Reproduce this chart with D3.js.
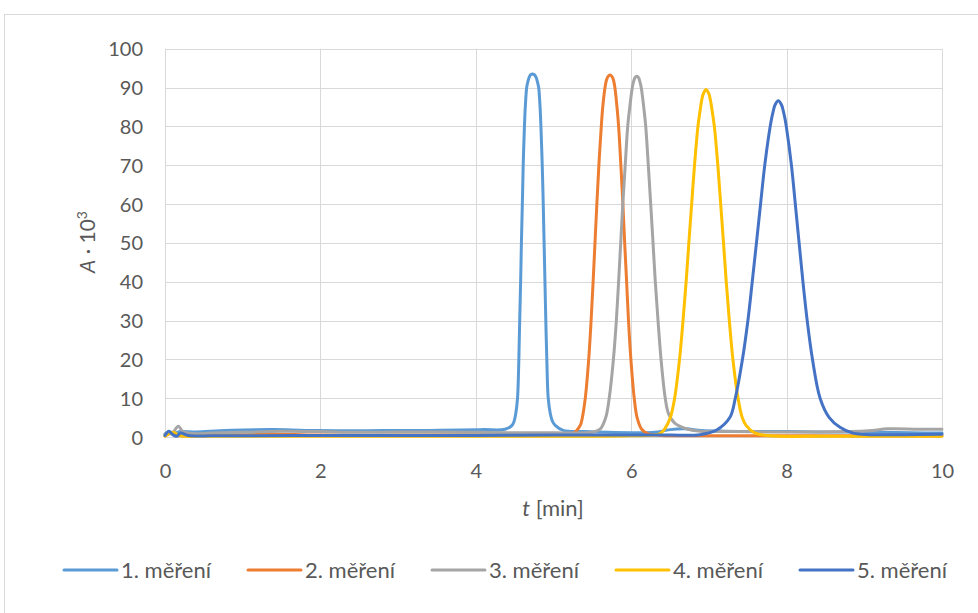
<!DOCTYPE html>
<html>
<head>
<meta charset="utf-8">
<script src="https://cdn.jsdelivr.net/npm/d3@7"></script>
<style>
  html, body { margin: 0; padding: 0; background: #ffffff; }
  svg { display: block; }
  text { font-family: Lato, "Open Sans", sans-serif; fill: #595959; }
</style>
</head>
<body>
<svg id="chart" width="978" height="613"></svg>
<script>
// Absorbance traces (A · 10^3) versus time t [min] for five repeated runs
const seriesNames = ["1. měření", "2. měření", "3. měření", "4. měření", "5. měření"];
const seriesColors = ["#5B9BD5", "#ED7D31", "#A5A5A5", "#FFC000", "#4472C4"];

const xTicks = [0, 2, 4, 6, 8, 10];
const yTicks = [0, 10, 20, 30, 40, 50, 60, 70, 80, 90, 100];

const run1 = [[0,0.8],[0.05,1.3],[0.12,1.0],[0.2,1.4],[0.4,1.3],[0.7,1.6],[1.0,1.8],[1.4,1.9],[1.8,1.7],[2.2,1.6],[2.6,1.6],[3.0,1.7],[3.4,1.7],[3.8,1.8],[4.1,1.9],[4.376,2.0],[4.466,3],[4.492,4],[4.514,6],[4.537,10],[4.554,20],[4.565,30],[4.577,40],[4.587,50],[4.599,60],[4.610,70],[4.626,80],[4.637,85],[4.655,90],[4.670,91.5],[4.688,92.7],[4.707,93.3],[4.730,93.5],[4.754,93.3],[4.775,92.7],[4.793,91.5],[4.809,90],[4.827,85],[4.838,80],[4.855,70],[4.868,60],[4.879,50],[4.890,40],[4.901,30],[4.914,20],[4.932,10],[4.959,6],[4.987,4],[5.022,3],[5.125,1.7],[5.4,1.4],[5.7,1.2],[6.0,1.1],[6.3,1.2],[6.5,1.9],[6.7,2.1],[6.9,1.7],[7.2,1.5],[7.6,1.4],[8.0,1.4],[8.4,1.3],[8.8,1.3],[9.2,1.2],[9.6,1.1],[10,1.0]];

const run2 = [[0,0.3],[0.08,0.9],[0.15,0.4],[0.4,0.5],[1.0,0.6],[1.5,0.7],[2,0.5],[3,0.5],[4,0.6],[4.8,0.7],[5.255,1.0],[5.344,3],[5.371,5],[5.409,10],[5.453,20],[5.484,30],[5.510,40],[5.534,50],[5.558,60],[5.584,70],[5.615,80],[5.634,85],[5.663,90],[5.683,92],[5.701,92.8],[5.727,93.2],[5.753,92.8],[5.771,92],[5.790,90],[5.817,85],[5.838,80],[5.867,70],[5.893,60],[5.916,50],[5.941,40],[5.965,30],[5.996,20],[6.039,10],[6.076,5],[6.135,2],[6.220,0.8],[6.4,0.4],[7,0.3],[8,0.3],[9,0.3],[10,0.3]];

const run3 = [[0,0.8],[0.1,1.2],[0.17,2.8],[0.23,1.4],[0.35,0.9],[0.6,1.0],[1.0,1.2],[1.5,1.5],[2,1.4],[2.5,1.2],[3,1.3],[3.5,1.3],[4,1.2],[4.5,1.1],[5,1.1],[5.492,1.2],[5.599,2],[5.672,5],[5.717,10],[5.771,20],[5.809,30],[5.838,40],[5.865,50],[5.892,60],[5.923,70],[5.955,80],[5.982,85],[6.014,90],[6.030,91.5],[6.047,92.5],[6.071,92.9],[6.096,92.5],[6.112,91.5],[6.129,90],[6.161,85],[6.187,80],[6.220,70],[6.251,60],[6.281,50],[6.310,40],[6.345,30],[6.384,20],[6.438,10],[6.480,6],[6.564,3.5],[6.731,2],[6.886,1.5],[7.3,1.4],[7.8,1.3],[8.3,1.3],[8.8,1.4],[9.1,1.7],[9.3,2.1],[9.7,2.0],[10,2.0]];

const run4 = [[0,0.2],[0.1,1.2],[0.2,0.3],[0.5,0.2],[1,0.2],[2,0.2],[3,0.2],[4,0.2],[5,0.2],[6,0.3],[6.365,0.8],[6.429,2],[6.504,5],[6.559,10],[6.622,20],[6.667,30],[6.707,40],[6.742,50],[6.778,60],[6.815,70],[6.859,80],[6.886,84],[6.910,87],[6.930,88.5],[6.963,89.5],[6.998,88.5],[7.017,87],[7.042,84],[7.070,80],[7.115,70],[7.152,60],[7.188,50],[7.223,40],[7.263,30],[7.309,20],[7.375,10],[7.429,5],[7.478,3],[7.594,1],[7.787,0.3],[8.5,0.2],[9,0.2],[10,0.2]];

const run5 = [[0,0.4],[0.05,1.5],[0.1,0.6],[0.15,0.2],[0.2,1.0],[0.3,0.4],[0.6,0.3],[1,0.3],[2,0.4],[3,0.4],[4,0.4],[5,0.5],[6,0.5],[6.5,0.5],[6.885,0.6],[7.100,1.8],[7.269,5],[7.340,10],[7.432,20],[7.502,30],[7.558,40],[7.612,50],[7.665,60],[7.719,70],[7.789,80],[7.807,82],[7.829,84],[7.851,85.5],[7.893,86.6],[7.935,85.5],[7.957,84],[7.979,82],[7.996,80],[8.062,70],[8.112,60],[8.161,50],[8.210,40],[8.265,30],[8.333,20],[8.431,10],[8.549,5],[8.687,2.5],[8.854,1],[9.073,0.6],[9.5,0.6],[10,0.7]];

const runs = [run1, run2, run3, run4, run5];

const svg = d3.select("#chart");
const plot = { left: 165, right: 942, top: 48.7, bottom: 437 };

const x = d3.scaleLinear().domain([0, 10]).range([plot.left, plot.right]);
const y = d3.scaleLinear().domain([0, 100]).range([plot.bottom, plot.top]);

// chart frame
svg.append("rect")
  .attr("x", 4.5).attr("y", 14.5)
  .attr("width", 1000).attr("height", 700)
  .attr("fill", "#ffffff").attr("stroke", "#D9D9D9").attr("stroke-width", 1);

// gridlines
const grid = svg.append("g").attr("stroke", "#D9D9D9").attr("stroke-width", 1);
grid.selectAll("line.h").data(yTicks).join("line")
  .attr("x1", plot.left).attr("x2", plot.right)
  .attr("y1", d => Math.round(y(d)) + 0.5).attr("y2", d => Math.round(y(d)) + 0.5);
grid.selectAll("line.v").data(xTicks).join("line")
  .attr("y1", plot.top).attr("y2", plot.bottom)
  .attr("x1", d => Math.round(x(d)) + 0.5).attr("x2", d => Math.round(x(d)) + 0.5);

// axes (labels only)
const yAxis = svg.append("g")
  .attr("transform", `translate(${plot.left - 22},0)`)
  .call(d3.axisLeft(y).tickValues(yTicks).tickSize(0).tickPadding(0));
yAxis.select(".domain").remove();
yAxis.selectAll("text").attr("font-size", 20).attr("font-family", "Lato").attr("fill", "#595959").attr("dy", "0.35em");

const xAxis = svg.append("g")
  .attr("transform", `translate(0,${plot.bottom + 27})`)
  .call(d3.axisBottom(x).tickValues(xTicks).tickSize(0).tickPadding(0));
xAxis.select(".domain").remove();
xAxis.selectAll("text").attr("font-size", 20).attr("font-family", "Lato").attr("fill", "#595959").attr("dy", "0.71em");

// series
const line = d3.line()
  .x(d => x(d[0]))
  .y(d => y(d[1]))
  .curve(d3.curveCatmullRom.alpha(0.5));

svg.append("g").selectAll("path").data(runs).join("path")
  .attr("d", line)
  .attr("fill", "none")
  .attr("stroke", (d, i) => seriesColors[i])
  .attr("stroke-width", 3)
  .attr("stroke-linejoin", "round")
  .attr("stroke-linecap", "round");

// axis titles
const yTitle = svg.append("text")
  .attr("transform", "translate(95,242) rotate(-90)")
  .attr("text-anchor", "middle")
  .attr("font-size", 21);
yTitle.append("tspan").attr("font-style", "italic").text("A");
yTitle.append("tspan").text(" · 10");
yTitle.append("tspan").attr("font-size", 14).attr("dy", -8).text("3");

const xTitle = svg.append("text")
  .attr("x", 553).attr("y", 516)
  .attr("text-anchor", "middle")
  .attr("font-size", 22);
xTitle.append("tspan").attr("font-style", "italic").text("t");
xTitle.append("tspan").text(" [min]");

// legend
const legend = svg.append("g");
const itemStep = 184, legendX = 64, legendY = 570;
seriesNames.forEach((name, i) => {
  const g = legend.append("g").attr("transform", `translate(${legendX + i * itemStep},${legendY})`);
  g.append("line").attr("x1", 0).attr("x2", 53).attr("y1", 0).attr("y2", 0)
    .attr("stroke", seriesColors[i]).attr("stroke-width", 3).attr("stroke-linecap", "round");
  g.append("text").attr("x", 57).attr("y", 0).attr("dy", "0.35em")
    .attr("font-size", 22).text(name);
});
</script>
</body>
</html>
